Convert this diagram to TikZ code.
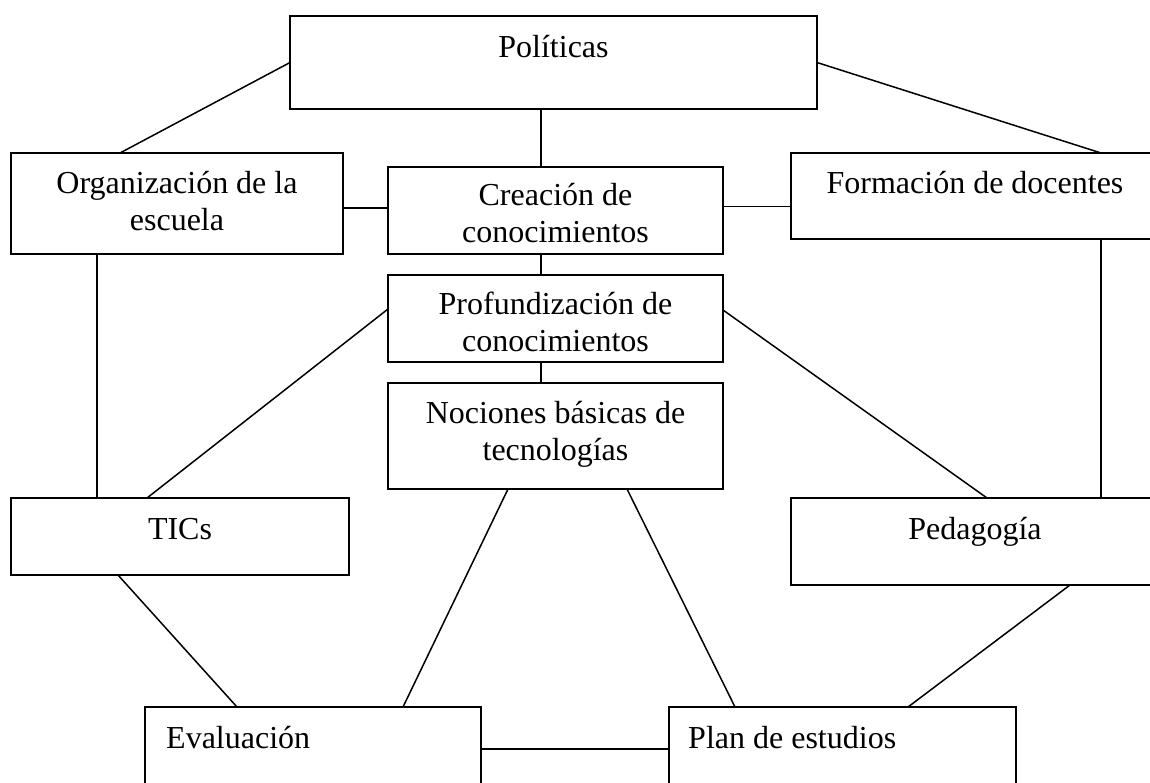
\documentclass[tikz,border=0pt]{standalone}
\usepackage{fontspec}
\setmainfont{Liberation Serif}
\begin{document}
\begin{tikzpicture}[x=1pt,y=1pt,
  bx/.style={draw=black, line width=1.8pt, rectangle, inner sep=0pt, outer sep=0pt, fill=white},
  lbl/.style={font=\fontsize{32}{37}\selectfont, inner sep=0pt, align=center, anchor=base},
  lbll/.style={font=\fontsize{32}{37}\selectfont, inner sep=0pt, anchor=base west},
  cn/.style={draw=black, line width=1.5pt}]
\useasboundingbox (0,0) rectangle (1150,-782);
\clip (0,0) rectangle (1150,-782);
\fill[white] (0,0) rectangle (1150,-782);
\newcommand\boxat[5]{\node[bx, minimum width={(#4)-(#2)}, minimum height={(#5)-(#3)}] (#1) at ({((#2)+(#4))/2},{-((#3)+(#5))/2}) {};}
\boxat{pol}{290}{16}{817}{109}
\boxat{org}{11}{153}{343}{254}
\boxat{cre}{388}{167}{723}{254}
\boxat{for}{791}{153}{1159}{239}
\boxat{pro}{388}{275}{723}{362}
\boxat{noc}{388}{383}{723}{489}
\boxat{tic}{11}{498}{349}{575}
\boxat{ped}{791}{498}{1159}{585}
\boxat{eva}{145}{707}{481}{800}
\boxat{pla}{669}{707}{1016}{800}
% connectors
\draw[cn] (pol.west) -- ([xshift=109]org.north west);
\draw[cn] (pol.east) -- ([xshift=310]for.north west);
\draw[cn] ([xshift=-14.5]cre.north) -- ([xshift=-14.5,yshift=1]cre.north |- pol.south);
\draw[cn] ([yshift=-4.5]org.east) -- ([yshift=-4.5]org.east -| cre.west);
\draw[cn] ([yshift=4]cre.east) -- ([yshift=4]cre.east -| for.west);
\draw[cn] ([xshift=-14.5]cre.south) -- ([xshift=-14.5]pro.north);
\draw[cn] ([xshift=-14.5]pro.south) -- ([xshift=-14.5]noc.north);
\draw[cn] ([xshift=86]org.south west) -- ([xshift=86]org.south west |- tic.north);
\draw[cn] ([yshift=9.5]pro.west) -- ([xshift=136]tic.north west);
\draw[cn] ([yshift=8.5]pro.east) -- ([xshift=196]ped.north west);
\draw[cn] ([xshift=310]for.south west) -- ([xshift=310]ped.north west);
\draw[cn] ([xshift=107]tic.south west) -- ([xshift=92]eva.north west);
\draw[cn] ([xshift=120]noc.south west) -- ([xshift=258]eva.north west);
\draw[cn] ([xshift=239]noc.south west) -- ([xshift=66]pla.north west);
\draw[cn] ([xshift=279]ped.south west) -- ([xshift=239]pla.north west);
\draw[cn] ([yshift=4.5]eva.east) -- ([yshift=4.5]eva.east -| pla.west);
% labels
\node[lbl] (tpol) at (553.5,-57) {Políticas};
\node[lbl] (torg) at (177,-230) {Organización de la\\escuela};
\node[lbl] (tcre) at (555.5,-242) {Creación de\\conocimientos};
\node[lbl] (tfor) at (975,-193) {Formación de docentes};
\node[lbl] (tpro) at (555.5,-351) {Profundización de\\conocimientos};
\node[lbl] (tnoc) at (555.5,-460) {Nociones básicas de\\tecnologías};
\node[lbl] (ttic) at (180,-539) {TICs};
\node[lbl] (tped) at (975,-539) {Pedagogía};
\node[lbll] (teva) at (166,-748) {Evaluación};
\node[lbll] (tpla) at (688,-748) {Plan de estudios};
\end{tikzpicture}
\end{document}
